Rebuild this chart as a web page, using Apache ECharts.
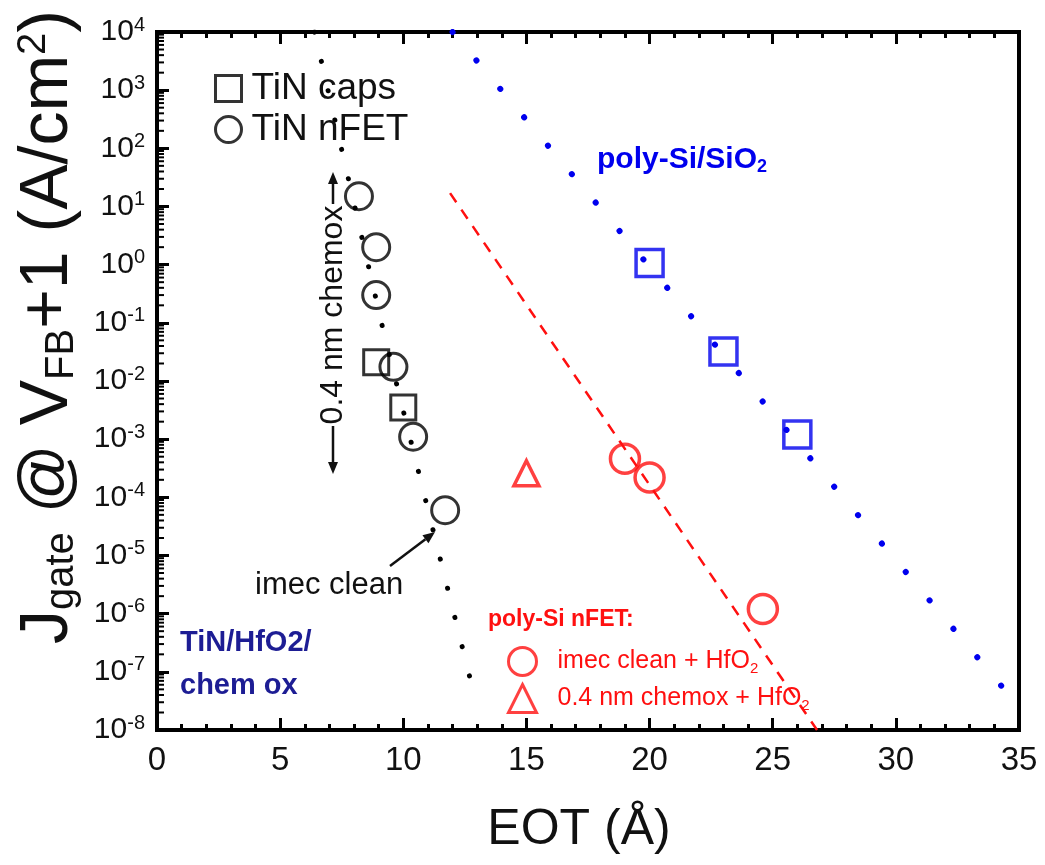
<!DOCTYPE html>
<html>
<head>
<meta charset="utf-8">
<script src="https://cdn.jsdelivr.net/npm/echarts@6/dist/echarts.min.js"></script>
<style>
  html, body { margin: 0; padding: 0; background: #fff; }
  #chart { width: 1045px; height: 865px; }
</style>
</head>
<body>
<div id="chart"></div>
<script>
// EOT in Angstrom, J in A/cm2
const TIN_CAPS_EOT = [8.9, 10.0];
const TIN_CAPS_J = [0.021, 0.0035];
const TIN_NFET_EOT = [8.2, 8.9, 8.9, 9.6, 10.4, 11.7];
const TIN_NFET_J = [15, 2.0, 0.3, 0.0175, 0.0011, 6e-5];
const TIN_FIT_EOT = [6.4, 9.2, 12.85];
const TIN_FIT_J = [1e4, 0.07, 4.5e-8];

const SIO2_EOT = [20, 23, 26];
const SIO2_J = [1.07, 0.032, 0.0012];
const SIO2_FIT_EOT = [12.0, 34.4];
const SIO2_FIT_J = [1e4, 5e-8];

const IMEC_HFO2_EOT = [19, 20, 24.6];
const IMEC_HFO2_J = [4.6e-4, 2.2e-4, 1.2e-6];
const CHEMOX_HFO2_EOT = [15];
const CHEMOX_HFO2_J = [2.6e-4];
const HFO2_FIT_EOT = [11.9, 26.8];
const HFO2_FIT_J = [17, 1e-8];

const X_MIN = 0;
const X_MAX = 35;
const X_STEP = 5;
const Y_MIN_EXP = -8;
const Y_MAX_EXP = 4;
const MINOR_MANTISSAS = [2, 3, 4, 5, 6, 7, 8, 9];

const RED = "#ff1010";
const BLUE = "#0000ee";
const NAVY = "#1d1d94";

const pairs = (xs, ys) => xs.map((x, i) => [x, ys[i]]);

const minorTicks = [];
for (let e = Y_MIN_EXP; e < Y_MAX_EXP; e++) {
  MINOR_MANTISSAS.forEach((m) => minorTicks.push([X_MIN, m * Math.pow(10, e)]));
}

const FONT = "Liberation Sans, Arial, sans-serif";

function hollow(color, width) {
  return { color: "rgba(0,0,0,0)", borderColor: color, borderWidth: width };
}

function arrow(x1, y1, x2, y2, color) {
  const a = Math.atan2(y2 - y1, x2 - x1);
  const L = 12, W = 5;
  const bx = x2 - L * Math.cos(a), by = y2 - L * Math.sin(a);
  return [
    { type: "line", shape: { x1, y1, x2: bx, y2: by }, style: { stroke: color, lineWidth: 2.5 } },
    {
      type: "polygon",
      shape: {
        points: [
          [x2, y2],
          [bx + W * Math.sin(a), by - W * Math.cos(a)],
          [bx - W * Math.sin(a), by + W * Math.cos(a)],
        ],
      },
      style: { fill: color },
    },
  ];
}

const chart = echarts.init(document.getElementById("chart"), null, { renderer: "canvas" });

chart.setOption({
  backgroundColor: "#ffffff",
  animation: false,
  textStyle: { fontFamily: FONT },
  grid: {
    left: 157,
    right: 26,
    top: 32,
    bottom: 135,
    show: true,
    borderColor: "#000",
    borderWidth: 4,
  },
  legend: [
    {
      orient: "vertical",
      left: 209,
      top: 65,
      itemWidth: 26,
      itemHeight: 26,
      itemGap: 4,
      selectedMode: false,
      data: [
        { name: "TiN caps", icon: "rect" },
        { name: "TiN nFET", icon: "circle" },
      ],
      itemStyle: { borderWidth: 3, borderColor: "#000" },
      textStyle: { fontSize: 37, color: "#111", lineHeight: 36, padding: [0, 0, 0, 5], fontFamily: FONT },
    },
    {
      orient: "vertical",
      left: 502,
      top: 641,
      itemWidth: 28,
      itemHeight: 28,
      itemGap: 6,
      selectedMode: false,
      data: [
        { name: "imec clean + HfO2", icon: "circle" },
        { name: "0.4 nm chemox + HfO2", icon: "triangle" },
      ],
      itemStyle: { borderWidth: 3 },
      formatter: (name) => name.replace("HfO2", "HfO{sub|2}"),
      textStyle: {
        fontSize: 25,
        color: RED,
        lineHeight: 30,
        padding: [0, 0, 0, 16],
        fontFamily: FONT,
        rich: {
          sub: { fontSize: 15, color: RED, verticalAlign: "bottom", lineHeight: 30, padding: [12, 0, 0, 0] },
        },
      },
    },
  ],
  xAxis: [
    {
      type: "value",
      min: X_MIN,
      max: X_MAX,
      interval: X_STEP,
      splitLine: { show: false },
      axisLine: { lineStyle: { color: "#000", width: 4 } },
      axisTick: { inside: true, length: 12, lineStyle: { width: 3, color: "#000" } },
      minorTick: { show: true, splitNumber: 5, length: 6, lineStyle: { width: 3, color: "#000" } },
      axisLabel: { fontSize: 33, color: "#111", margin: 14, fontFamily: FONT },
    },
    {
      type: "value",
      position: "top",
      min: X_MIN,
      max: X_MAX,
      interval: X_STEP,
      splitLine: { show: false },
      axisLine: { lineStyle: { color: "#000", width: 4 } },
      axisTick: { inside: true, length: 12, lineStyle: { width: 3, color: "#000" } },
      minorTick: { show: true, splitNumber: 5, length: 6, lineStyle: { width: 3, color: "#000" } },
      axisLabel: { show: false },
    },
  ],
  yAxis: {
    type: "log",
    logBase: 10,
    min: Math.pow(10, Y_MIN_EXP),
    max: Math.pow(10, Y_MAX_EXP),
    interval: 1,
    splitLine: { show: false },
    axisLine: { lineStyle: { color: "#000", width: 4 } },
    axisTick: { inside: true, length: 12, lineStyle: { width: 3, color: "#000" } },
    axisLabel: {
      margin: 12,
      color: "#111",
      fontSize: 30,
      fontFamily: FONT,
      formatter: (v) => "10{sup|" + Math.round(Math.log10(v)) + "}",
      rich: {
        sup: { fontSize: 20, color: "#111", verticalAlign: "top", padding: [0, 0, 14, 0], fontFamily: FONT },
      },
    },
  },
  series: [
    {
      type: "custom",
      name: "minor",
      silent: true,
      clip: false,
      data: minorTicks,
      renderItem: (params, api) => {
        const p = api.coord([api.value(0), api.value(1)]);
        return {
          type: "line",
          shape: { x1: p[0], y1: p[1], x2: p[0] + 7, y2: p[1] },
          style: { stroke: "#000", lineWidth: 2 },
        };
      },
    },
    {
      name: "TiN fit",
      type: "line",
      data: pairs(TIN_FIT_EOT, TIN_FIT_J),
      symbol: "none",
      silent: true,
      lineStyle: { color: "#000", width: 5, type: [0.1, 30], cap: "round" },
    },
    {
      name: "poly-Si/SiO2 fit",
      type: "line",
      data: pairs(SIO2_FIT_EOT, SIO2_FIT_J),
      symbol: "none",
      silent: true,
      lineStyle: { color: BLUE, width: 6, type: [0.1, 37], cap: "round" },
    },
    {
      name: "HfO2 fit",
      type: "line",
      data: pairs(HFO2_FIT_EOT, HFO2_FIT_J),
      symbol: "none",
      silent: true,
      lineStyle: { color: RED, width: 2.5, type: [11, 9] },
    },
    {
      name: "TiN caps",
      type: "scatter",
      data: pairs(TIN_CAPS_EOT, TIN_CAPS_J),
      symbol: "rect",
      symbolSize: 25,
      itemStyle: hollow("#000", 3),
    },
    {
      name: "TiN nFET",
      type: "scatter",
      data: pairs(TIN_NFET_EOT, TIN_NFET_J),
      symbol: "circle",
      symbolSize: 27,
      itemStyle: hollow("#000", 3),
    },
    {
      name: "poly-Si/SiO2",
      type: "scatter",
      data: pairs(SIO2_EOT, SIO2_J),
      symbol: "rect",
      symbolSize: 27,
      itemStyle: hollow(BLUE, 3.5),
    },
    {
      name: "imec clean + HfO2",
      type: "scatter",
      data: pairs(IMEC_HFO2_EOT, IMEC_HFO2_J),
      symbol: "circle",
      symbolSize: 29,
      itemStyle: hollow(RED, 3.5),
    },
    {
      name: "0.4 nm chemox + HfO2",
      type: "scatter",
      data: pairs(CHEMOX_HFO2_EOT, CHEMOX_HFO2_J),
      symbol: "triangle",
      symbolSize: 25,
      itemStyle: hollow(RED, 3.5),
    },
  ],
  graphic: [
    {
      type: "text",
      x: 48,
      y: 327,
      rotation: Math.PI / 2,
      style: {
        text: "J{sub|gate} @ V{sub|FB}+1 (A/cm{sup|2})",
        font: "68px " + FONT,
        fill: "#111",
        align: "center",
        verticalAlign: "middle",
        rich: {
          sub: { fontSize: 40, fill: "#111", verticalAlign: "bottom", padding: [24, 0, 0, 0] },
          sup: { fontSize: 40, fill: "#111", verticalAlign: "top", padding: [0, 0, 24, 0] },
        },
      },
    },
    {
      type: "text",
      x: 579,
      y: 830,
      style: { text: "EOT (\u00c5)", font: "50px " + FONT, fill: "#111", align: "center", verticalAlign: "middle" },
    },
    {
      type: "text",
      x: 333,
      y: 315,
      rotation: Math.PI / 2,
      style: { text: "0.4 nm chemox", font: "32px " + FONT, fill: "#111", align: "center", verticalAlign: "middle" },
    },
    ...arrow(333, 204, 333, 172, "#111"),
    ...arrow(333, 426, 333, 474, "#111"),
    {
      type: "text",
      x: 255,
      y: 585,
      style: { text: "imec clean", font: "31px " + FONT, fill: "#111", align: "left", verticalAlign: "middle" },
    },
    ...arrow(390, 566, 435, 532, "#111"),
    {
      type: "text",
      x: 180,
      y: 643,
      style: { text: "TiN/HfO2/", font: "bold 29px " + FONT, fill: NAVY, align: "left", verticalAlign: "middle" },
    },
    {
      type: "text",
      x: 180,
      y: 686,
      style: { text: "chem ox", font: "bold 29px " + FONT, fill: NAVY, align: "left", verticalAlign: "middle" },
    },
    {
      type: "text",
      x: 597,
      y: 160,
      style: {
        text: "poly-Si/SiO{sub|2}",
        font: "bold 30px " + FONT,
        fill: BLUE,
        align: "left",
        verticalAlign: "middle",
        rich: { sub: { fontSize: 18, fill: BLUE, fontWeight: "bold", verticalAlign: "bottom", padding: [14, 0, 0, 0] } },
      },
    },
    {
      type: "text",
      x: 488,
      y: 620,
      style: { text: "poly-Si nFET:", font: "bold 23px " + FONT, fill: RED, align: "left", verticalAlign: "middle" },
    },
  ],
});
</script>
</body>
</html>
